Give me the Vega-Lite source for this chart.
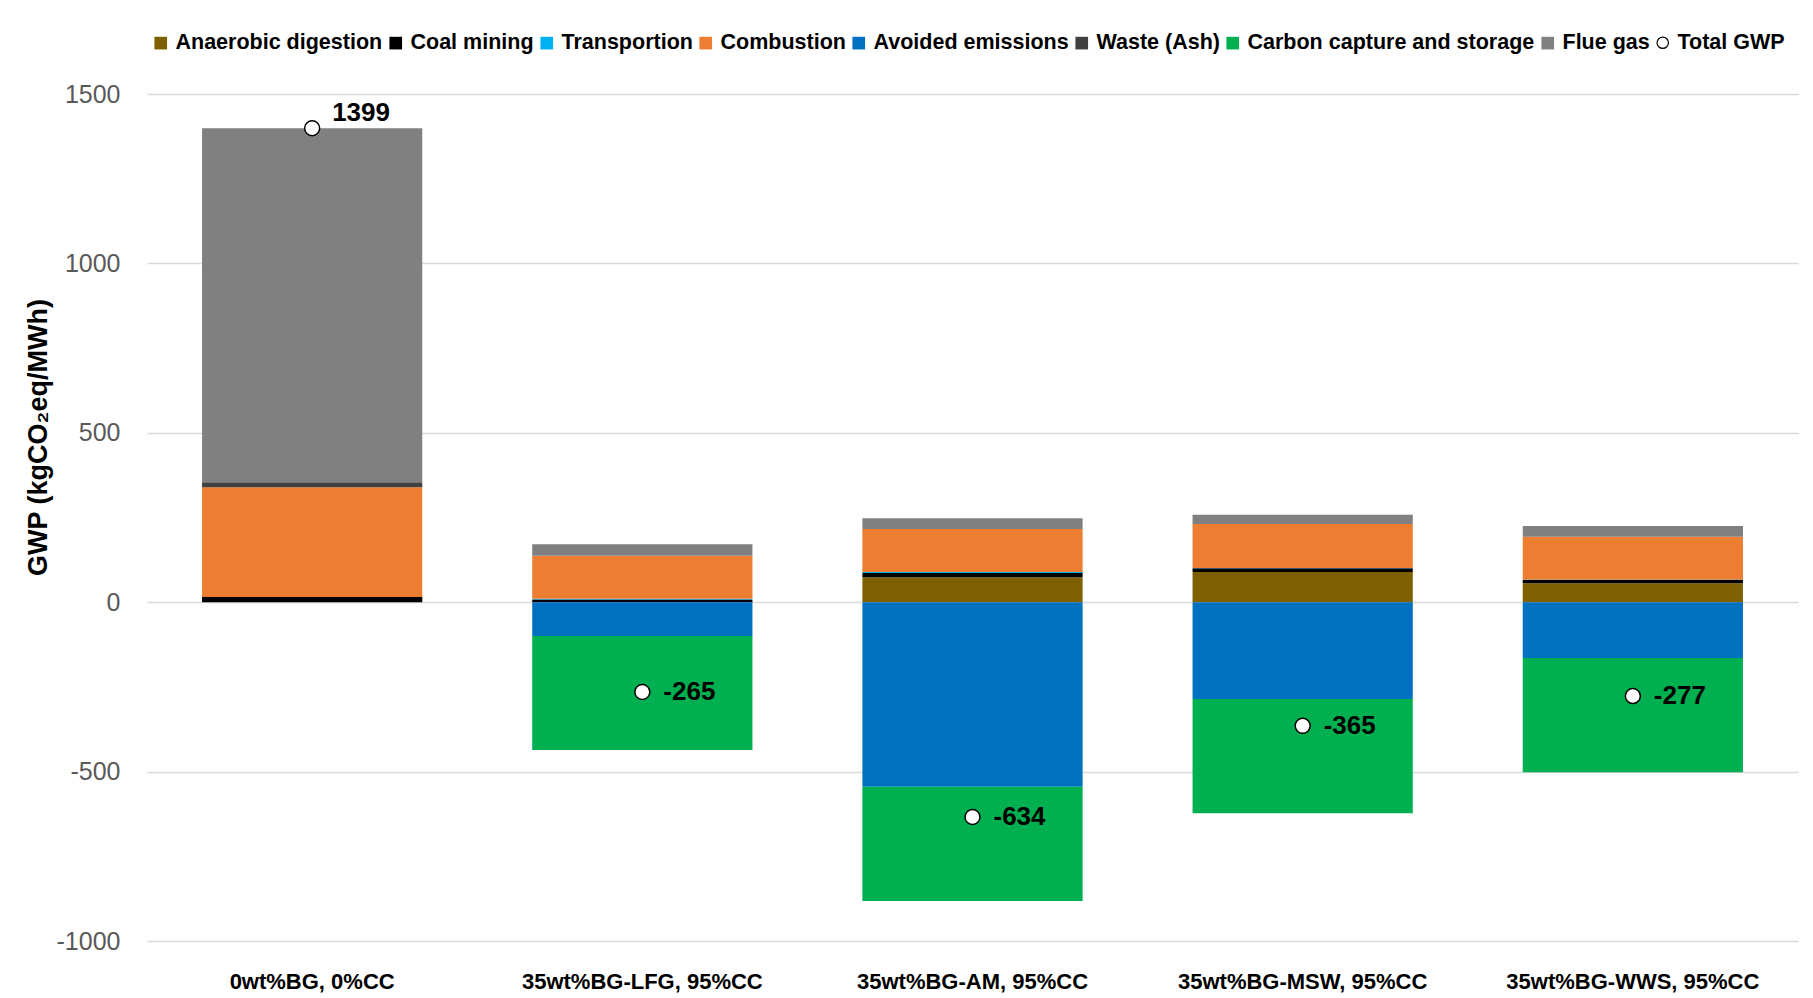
{
  "$schema": "https://vega.github.io/schema/vega-lite/v6.json",
  "width": 1651,
  "height": 847,
  "autosize": {"type": "none"},
  "padding": {"left": 147, "top": 94, "right": 15, "bottom": 57},
  "background": "white",
  "config": {
    "view": {"stroke": null},
    "font": "Liberation Sans"
  },
  "datasets": {
    "components": [
      {"scenario": "0wt%BG, 0%CC", "component": "Coal mining", "value": 15},
      {"scenario": "0wt%BG, 0%CC", "component": "Combustion", "value": 324},
      {"scenario": "0wt%BG, 0%CC", "component": "Waste (Ash)", "value": 15},
      {"scenario": "0wt%BG, 0%CC", "component": "Flue gas", "value": 1045},
      {"scenario": "35wt%BG-LFG, 95%CC", "component": "Coal mining", "value": 8},
      {"scenario": "35wt%BG-LFG, 95%CC", "component": "Transportion", "value": 2},
      {"scenario": "35wt%BG-LFG, 95%CC", "component": "Combustion", "value": 127},
      {"scenario": "35wt%BG-LFG, 95%CC", "component": "Avoided emissions", "value": -100},
      {"scenario": "35wt%BG-LFG, 95%CC", "component": "Carbon capture and storage", "value": -336},
      {"scenario": "35wt%BG-LFG, 95%CC", "component": "Flue gas", "value": 34},
      {"scenario": "35wt%BG-AM, 95%CC", "component": "Anaerobic digestion", "value": 74},
      {"scenario": "35wt%BG-AM, 95%CC", "component": "Coal mining", "value": 12},
      {"scenario": "35wt%BG-AM, 95%CC", "component": "Transportion", "value": 3},
      {"scenario": "35wt%BG-AM, 95%CC", "component": "Combustion", "value": 127},
      {"scenario": "35wt%BG-AM, 95%CC", "component": "Avoided emissions", "value": -545},
      {"scenario": "35wt%BG-AM, 95%CC", "component": "Carbon capture and storage", "value": -337},
      {"scenario": "35wt%BG-AM, 95%CC", "component": "Flue gas", "value": 32},
      {"scenario": "35wt%BG-MSW, 95%CC", "component": "Anaerobic digestion", "value": 89},
      {"scenario": "35wt%BG-MSW, 95%CC", "component": "Coal mining", "value": 11},
      {"scenario": "35wt%BG-MSW, 95%CC", "component": "Transportion", "value": 1},
      {"scenario": "35wt%BG-MSW, 95%CC", "component": "Combustion", "value": 130},
      {"scenario": "35wt%BG-MSW, 95%CC", "component": "Avoided emissions", "value": -286},
      {"scenario": "35wt%BG-MSW, 95%CC", "component": "Carbon capture and storage", "value": -337},
      {"scenario": "35wt%BG-MSW, 95%CC", "component": "Flue gas", "value": 27},
      {"scenario": "35wt%BG-WWS, 95%CC", "component": "Anaerobic digestion", "value": 56},
      {"scenario": "35wt%BG-WWS, 95%CC", "component": "Coal mining", "value": 10},
      {"scenario": "35wt%BG-WWS, 95%CC", "component": "Transportion", "value": 1},
      {"scenario": "35wt%BG-WWS, 95%CC", "component": "Combustion", "value": 126},
      {"scenario": "35wt%BG-WWS, 95%CC", "component": "Avoided emissions", "value": -165},
      {"scenario": "35wt%BG-WWS, 95%CC", "component": "Carbon capture and storage", "value": -337},
      {"scenario": "35wt%BG-WWS, 95%CC", "component": "Flue gas", "value": 32}
    ],
    "totals": [
      {"scenario": "0wt%BG, 0%CC", "total": 1399},
      {"scenario": "35wt%BG-LFG, 95%CC", "total": -265},
      {"scenario": "35wt%BG-AM, 95%CC", "total": -634},
      {"scenario": "35wt%BG-MSW, 95%CC", "total": -365},
      {"scenario": "35wt%BG-WWS, 95%CC", "total": -277}
    ]
  },
  "encoding": {
    "x": {
      "field": "scenario",
      "type": "nominal",
      "sort": ["0wt%BG, 0%CC", "35wt%BG-LFG, 95%CC", "35wt%BG-AM, 95%CC", "35wt%BG-MSW, 95%CC", "35wt%BG-WWS, 95%CC"],
      "scale": {"paddingInner": 0.333, "paddingOuter": 0.1667},
      "axis": {
        "title": null,
        "labelAngle": 0,
        "domain": false,
        "ticks": false,
        "tickSize": 0,
        "labelFont": "Liberation Sans",
        "labelFontWeight": "bold",
        "labelFontSize": 22,
        "labelColor": "#000000",
        "labelBaseline": "middle",
        "labelPadding": 40,
        "labelLimit": 400
      }
    }
  },
  "layer": [
    {
      "data": {"name": "components"},
      "mark": {"type": "bar"},
      "encoding": {
        "y": {
          "field": "value",
          "type": "quantitative",
          "stack": "zero",
          "scale": {"domain": [-1000, 1500], "nice": false, "zero": false},
          "axis": {
            "title": "GWP (kgCO₂eq/MWh)",
            "titleFont": "Liberation Sans",
            "titleFontWeight": "bold",
            "titleFontSize": 27,
            "titleColor": "#000000",
            "titleAngle": -90,
            "titleAlign": "center",
            "titleBaseline": "middle",
            "titleX": -109,
            "titleY": 343,
            "values": [-1000, -500, 0, 500, 1000, 1500],
            "labelExpr": "'' + datum.value",
            "domain": false,
            "ticks": false,
            "tickSize": 0,
            "labelPadding": 27,
            "labelFont": "Liberation Sans",
            "labelFontSize": 25,
            "labelColor": "#595959",
            "grid": true,
            "gridColor": "#d9d9d9",
            "gridWidth": 1.5
          }
        },
        "color": {
          "field": "component",
          "type": "nominal",
          "scale": {
            "domain": ["Anaerobic digestion", "Coal mining", "Transportion", "Combustion", "Avoided emissions", "Waste (Ash)", "Carbon capture and storage", "Flue gas"],
            "range": ["#7f6000", "#000000", "#00b0f0", "#ed7d31", "#0070c0", "#404040", "#00b050", "#808080"]
          },
          "legend": {
            "title": null,
            "orient": "none",
            "direction": "horizontal",
            "columns": 8,
            "legendX": 3,
            "legendY": -62,
            "symbolType": "square",
            "symbolSize": 160,
            "symbolStrokeWidth": 0,
            "labelFont": "Liberation Sans",
            "labelFontWeight": "bold",
            "labelFontSize": 21.5,
            "labelColor": "#000000",
            "labelLimit": 0,
            "labelOffset": 4,
            "columnPadding": 2
          }
        },
        "order": {"field": "component_order", "type": "quantitative"}
      }
    },
    {
      "data": {"name": "totals"},
      "mark": {"type": "point", "shape": "circle", "filled": true, "stroke": "#000000", "strokeWidth": 1.5, "size": 225, "opacity": 1},
      "encoding": {
        "y": {"field": "total", "type": "quantitative"},
        "fill": {
          "datum": "Total GWP",
          "scale": {"range": ["#ffffff"]},
          "legend": {
            "title": null,
            "orient": "none",
            "legendX": 1505,
            "legendY": -62,
            "symbolType": "circle",
            "symbolSize": 130,
            "symbolStrokeColor": "#000000",
            "symbolStrokeWidth": 1.2,
            "labelFont": "Liberation Sans",
            "labelFontWeight": "bold",
            "labelFontSize": 21.5,
            "labelColor": "#000000",
            "labelOffset": 4
          }
        }
      }
    },
    {
      "data": {"name": "totals"},
      "transform": [{"filter": "datum.total > 0"}],
      "mark": {"type": "text", "align": "left", "baseline": "middle", "dx": 20, "dy": -15, "font": "Liberation Sans", "fontWeight": "bold", "fontSize": 26, "color": "#000000"},
      "encoding": {
        "y": {"field": "total", "type": "quantitative"},
        "text": {"field": "total", "type": "nominal"}
      }
    },
    {
      "data": {"name": "totals"},
      "transform": [{"filter": "datum.total < 0"}],
      "mark": {"type": "text", "align": "left", "baseline": "middle", "dx": 21, "font": "Liberation Sans", "fontWeight": "bold", "fontSize": 26, "color": "#000000"},
      "encoding": {
        "y": {"field": "total", "type": "quantitative"},
        "text": {"field": "total", "type": "nominal"}
      }
    }
  ]
}
